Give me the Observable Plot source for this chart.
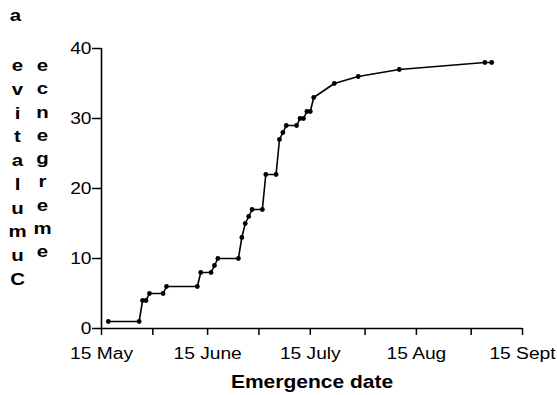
<!DOCTYPE html>
<html>
<head>
<meta charset="utf-8">
<script src="https://cdn.jsdelivr.net/npm/d3@7"></script>
<script src="https://cdn.jsdelivr.net/npm/@observablehq/plot@0.6"></script>
<style>
  html, body { margin: 0; padding: 0; background: #fff; }
  svg { display: block; }
</style>
</head>
<body>
<div id="chart"></div>
<script>
// Emergence dates (year arbitrary) and cumulative emergence counts
const emergenceDates = [
  "2000-05-17", "2000-05-26", "2000-05-27", "2000-05-28", "2000-05-29",
  "2000-06-02", "2000-06-03", "2000-06-12", "2000-06-13", "2000-06-16",
  "2000-06-17", "2000-06-18", "2000-06-24", "2000-06-25", "2000-06-26",
  "2000-06-27", "2000-06-28", "2000-07-01", "2000-07-02", "2000-07-05",
  "2000-07-06", "2000-07-07", "2000-07-08", "2000-07-11", "2000-07-12",
  "2000-07-13", "2000-07-14", "2000-07-15", "2000-07-16", "2000-07-22",
  "2000-07-29", "2000-08-10", "2000-09-04", "2000-09-06"
];
const cumulativeEmergence = [
  1, 1, 4, 4, 5,
  5, 6, 6, 8, 8,
  9, 10, 10, 13, 15,
  16, 17, 17, 22, 22,
  27, 28, 29, 29, 30,
  30, 31, 31, 33, 35,
  36, 37, 38, 38
];
const xDomain = ["2000-05-15", "2000-09-15"];
const majorTickDates = ["2000-05-15", "2000-06-15", "2000-07-15", "2000-08-15", "2000-09-15"];
const majorTickLabels = ["15 May", "15 June", "15 July", "15 Aug", "15 Sept"];
const minorTickDates = ["2000-05-30", "2000-06-30", "2000-07-31", "2000-08-31"];
const yTicks = [0, 10, 20, 30, 40];
const yDomain = [0, 40];
const panelLabel = "a";
const yLabelCol1 = "Cumulative".split("").reverse();
const yLabelCol2 = "emergence".split("").reverse();
const xLabel = "Emergence date";

const data = emergenceDates.map((d, i) => ({date: new Date(d), count: cumulativeEmergence[i]}));
const labelMap = new Map(majorTickDates.map((d, i) => [+new Date(d), majorTickLabels[i]]));
const allTicks = [...majorTickDates, ...minorTickDates].map(d => new Date(d));

const font = "'Liberation Sans', Arial, Helvetica, sans-serif";

const chart = Plot.plot({
  width: 557,
  height: 395,
  marginLeft: 101,
  marginRight: 35,
  marginTop: 48,
  marginBottom: 67,
  style: {fontFamily: font, fontSize: "16px", color: "black", background: "white", overflow: "visible"},
  x: {type: "utc", domain: xDomain.map(d => new Date(d))},
  y: {domain: yDomain},
  marks: [
    Plot.axisY({ticks: yTicks, tickSize: 9, tickPadding: 1, label: null, fontSize: 16, strokeWidth: 1.5}),
    Plot.axisX({ticks: allTicks, tickFormat: d => labelMap.get(+d) ?? "", tickSize: 7, tickPadding: 12, label: null, fontSize: 16, strokeWidth: 1.5}),
    Plot.ruleX([new Date(xDomain[0])], {stroke: "black", strokeWidth: 1.6}),
    Plot.ruleY([yDomain[0]], {stroke: "black", strokeWidth: 1.6}),
    Plot.line(data, {x: "date", y: "count", stroke: "black", strokeWidth: 1.6}),
    Plot.dot(data, {x: "date", y: "count", r: 2.4, fill: "black", stroke: "none"}),
    Plot.text([panelLabel], {text: d => d, frameAnchor: "top-left", dx: -86, dy: -40, lineAnchor: "top", textAnchor: "middle", fontWeight: "bold", fontSize: 17}),
    Plot.text([yLabelCol1.join("\n")], {text: d => d, frameAnchor: "top-left", dx: -84, dy: 6, lineAnchor: "top", textAnchor: "middle", lineHeight: 1.394, fontWeight: "bold", fontSize: 17}),
    Plot.text([yLabelCol2.join("\n")], {text: d => d, frameAnchor: "top-left", dx: -59, dy: 6, lineAnchor: "top", textAnchor: "middle", lineHeight: 1.368, fontWeight: "bold", fontSize: 17}),
    Plot.text([xLabel], {text: d => d, frameAnchor: "bottom", dy: 54, lineAnchor: "middle", textAnchor: "middle", fontWeight: "bold", fontSize: 17.5})
  ]
});

document.getElementById("chart").appendChild(chart);

// The reference's lettering is horizontally stretched (~1.2x); reproduce with textLength.
chart.querySelectorAll("text").forEach(t => {
  const spans = t.querySelectorAll("tspan");
  const targets = spans.length ? Array.from(spans) : [t];
  targets.forEach(el => {
    const len = el.getComputedTextLength();
    if (len > 0) {
      el.setAttribute("textLength", (len * 1.2).toFixed(2));
      el.setAttribute("lengthAdjust", "spacingAndGlyphs");
    }
  });
});
</script>
</body>
</html>
